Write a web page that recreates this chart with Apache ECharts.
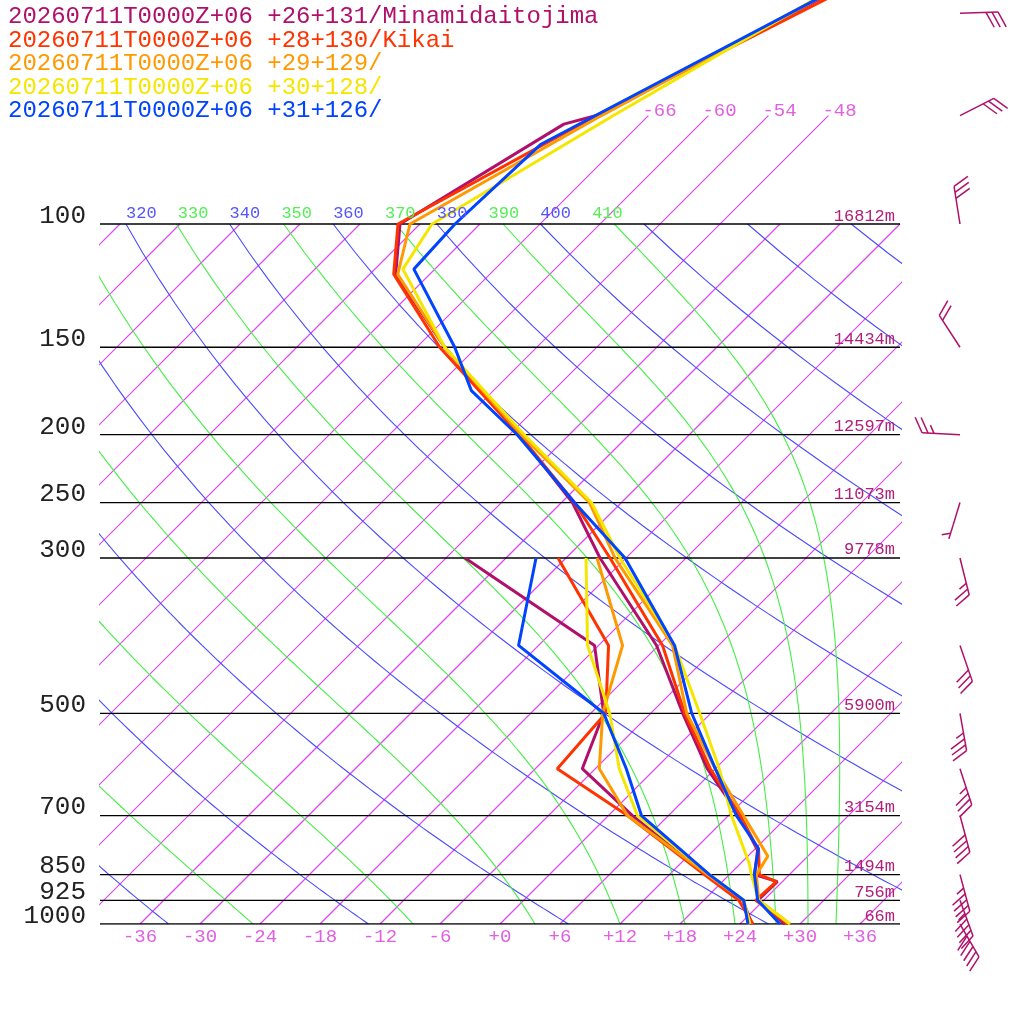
<!DOCTYPE html>
<html><head><meta charset="utf-8">
<script src="https://cdn.jsdelivr.net/npm/echarts@6/dist/echarts.min.js"></script>
<style>html,body{margin:0;padding:0;background:#fff}#c{width:1024px;height:1024px}</style>
</head><body><div id="c"></div>
<script>
// ---- data ----
const stationNames = ['20260711T0000Z+06 +26+131/Minamidaitojima','20260711T0000Z+06 +28+130/Kikai','20260711T0000Z+06 +29+129/','20260711T0000Z+06 +30+128/','20260711T0000Z+06 +31+126/'];
const stationColors = ['#b0106a','#ff3300','#ff9900','#f5e600','#0044ff'];

const minamiP = [1000,925,870,850,785,700,600,500,400,300,250,200,150,118,100,72,70,46];
const minamiT = [28.5,23.4,23.5,20.5,18.4,13.1,5.2,-2.8,-12.2,-26.6,-34.9,-47,-63.2,-75.4,-80,-73.6,-71.2,-59.5];
const kikaiP = [1000,925,870,850,785,700,600,500,400,300,250,200,150,118,100,70,46];
const kikaiT = [28.8,23.2,23.4,21,18.5,13.2,5.5,-2.6,-11.6,-25.6,-34.7,-47,-63.7,-75.6,-80.2,-71.2,-58.8];
const st3P = [1000,925,850,800,700,600,500,400,300,250,200,150,118,100,70,46];
const st3T = [29,23.5,20.7,20.0,13.5,6,-2.4,-10.6,-25.1,-33.2,-46.8,-63.2,-75.2,-79,-70.7,-59.8];
const st4P = [1000,925,850,820,700,600,500,400,300,250,200,150,116,100,70,46];
const st4T = [29,23.5,20.2,18.9,12.3,6.4,-1.1,-10.4,-24.6,-33,-46.5,-63.2,-75.2,-76.8,-69.5,-60.2];
const st5P = [1000,925,850,780,700,600,500,400,300,250,200,173,150,116,100,77,46];
const st5T = [28,23.4,20.5,18.3,12.8,6.0,-1.9,-10.4,-24.1,-34.7,-47.2,-56.2,-62.2,-74.1,-74.5,-73.9,-59.8];

const dewP = [1000,925,850,700,600,500,400,300];
const minamiTd = [25.2,21.9,15.6,2.4,-7.3,-10.7,-18.4,-40.1];
const kikaiTd = [25.3,21.5,15.5,1.9,-9.8,-10.5,-17,-30.8];
const st3Td = [24.9,22,15.8,1.9,-5.6,-10.8,-15.6,-26.9];
const st4Td = [25,22,16,2.9,-3.6,-10.1,-19.1,-28];
const st5Td = [24.8,22,16,3.3,-2.9,-10.7,-26,-33];

const pressureLevels = [100,150,200,250,300,500,700,850,925,1000];
const heightLabels = ['16812m','14434m','12597m','11073m','9778m','5900m','3154m','1494m','756m','66m'];
const tempTicks = [-36,-30,-24,-18,-12,-6,0,6,12,18,24,30,36];
const isoLabels = [-66,-60,-54,-48];
const thetaLabels = [320,330,340,350,360,370,380,390,400,410];
const moistStartT = [-24.7,-8.7,3.5,12,18.5,23.5,27.6,30.8,33.6];

const windP = [50,70,100,150,200,250,300,400,500,600,700,850,925,1000];
const windDir = [88,63,351,327,273,197,166,161,170,162,165,165,160,150];
const windSpd = [30,30,30,20,25,5,25,30,35,35,40,45,45,50];

// ---- helpers ----
const L = p => Math.log10(1000/p);
const sk = (T,p) => [T + 70*L(p), L(p)];
const series = [];
function line(data, color, width, z){
  series.push({type:'line', data, symbol:'none', silent:true, animation:false, z:z||1, color,
    itemStyle:{color}, lineStyle:{color, width, opacity:1}});
}
// isotherms
for (let T=-126; T<=36; T+=6){
  const top = (T>=-66 && T<=-48) ? 70 : 100;
  line([sk(T,1000), sk(T,top)], '#dd44ee', 1.15, 1);
}
// dry adiabats
for (let th=240; th<=520; th+=20){
  const d=[]; for(let p=1000;p>=100;p-=10){ d.push(sk(th*Math.pow(p/1000,0.2857)-273.15,p)); }
  line(d,'#4a4aff',1.1,2);
}
// moist adiabats
function es(Tc){return 6.112*Math.exp(17.67*Tc/(Tc+243.5));}
for (const T0 of moistStartT){
  let T=T0+273.15; const d=[sk(T0,1000)];
  for(let p=1000;p>100;p-=2){
    const f=(TT,pp)=>{const e=es(TT-273.15);const r=0.622*e/(pp-e);
      return (287*TT+2.5e6*r)/(pp*(1004+2.5e6*2.5e6*r*0.622/(287*TT*TT)));};
    const k1=f(T,p), k2=f(T-k1,p-1), k3=f(T-k2,p-1), k4=f(T-2*k3,p-2);
    T -= 2*(k1+2*k2+2*k3+k4)/6;
    if ((p-2)%10===0) d.push(sk(T-273.15,p-2));
  }
  line(d,'#44ee44',1.1,2);
}
// pressure lines
for (const p of pressureLevels) line([[-40,L(p)],[40,L(p)]],'#000',1.3,3);
// profiles
const tP=[minamiP,kikaiP,st3P,st4P,st5P], tT=[minamiT,kikaiT,st3T,st4T,st5T], tD=[minamiTd,kikaiTd,st3Td,st4Td,st5Td];
for(let i=0;i<5;i++){
  line(tT[i].map((t,j)=>sk(t,tP[i][j])), stationColors[i], 3, 10+i);
  line(tD[i].map((t,j)=>sk(t,dewP[j])), stationColors[i], 3, 10+i);
}
// text helper via custom series
function texts(items){
  series.push({type:'custom', silent:true, animation:false, clip:false, z:20,
    data: items.map((_,i)=>[i]),
    renderItem:(params,api)=>{const it=items[params.dataIndex]; const c=api.coord(it.at);
      return {type:'text', x:c[0]+(it.dx||0), y:c[1]+(it.dy||0), style:{text:it.text, fill:it.color,
        font:it.font, align:it.align||'left', verticalAlign:it.va||'middle'}};}});
}
const mono = '"Liberation Mono", "DejaVu Sans Mono", monospace';
texts(pressureLevels.map((p,i)=>({at:[-40,L(p)],dx:-14,dy:-8,text:String(p),color:'#222',font:'26px '+mono,align:'right'})));
texts(pressureLevels.map((p,i)=>({at:[40,L(p)],dx:-5,dy:-8,text:heightLabels[i],color:'#b0207a',font:'17px '+mono,align:'right'})));
texts(tempTicks.map(t=>({at:[t,0],dy:13,text:(t>=0?'+':'')+t,color:'#e060e0',font:'19px '+mono,align:'center'})));
texts(isoLabels.map(t=>({at:sk(t,70),dx:-6,dy:-5,text:String(t),color:'#e060e0',font:'19px '+mono})));
texts(thetaLabels.map(th=>({at:sk(th*Math.pow(0.1,0.2857)-273.15,100),dy:-11,text:String(th),
  color:(th%20===0)?'#5555ff':'#55ee55',font:'17px '+mono})));
// legend
texts(stationNames.map((s,i)=>({at:[-40,1.32],dx:-92,dy:17+23.5*i,text:s,color:stationColors[i],font:'24px '+mono})));
// wind barbs
series.push({type:'custom', silent:true, animation:false, clip:false, z:20,
  data: windP.map((p,i)=>[46, L(p), windDir[i], windSpd[i]]),
  renderItem:(params,api)=>{
    const o=api.coord([api.value(0),api.value(1)]); const d=api.value(2)*Math.PI/180; let s=api.value(3);
    const ux=Math.sin(d), uy=-Math.cos(d), len=38;
    const a=63*Math.PI/180; const fx=ux*Math.cos(a)-uy*Math.sin(a), fy=ux*Math.sin(a)+uy*Math.cos(a);
    const st={stroke:'#b0106a',lineWidth:1.5};
    const ch=[{type:'line',shape:{x1:o[0],y1:o[1],x2:o[0]+ux*len,y2:o[1]+uy*len},style:st}];
    let pos=len; 
    while(s>=10){ch.push({type:'line',shape:{x1:o[0]+ux*pos,y1:o[1]+uy*pos,x2:o[0]+ux*pos+fx*17,y2:o[1]+uy*pos+fy*17},style:st}); pos-=6; s-=10;}
    if(s>=5){ if(pos===len) pos-=6; ch.push({type:'line',shape:{x1:o[0]+ux*pos,y1:o[1]+uy*pos,x2:o[0]+ux*pos+fx*9,y2:o[1]+uy*pos+fy*9},style:st});}
    return {type:'group',children:ch};
  }});

const chart = echarts.init(document.getElementById('c'));
chart.setOption({animation:false, backgroundColor:'#fff',
  grid:{left:100,right:124,top:0,bottom:100},
  xAxis:{type:'value',min:-40,max:40,show:false},
  yAxis:{type:'value',min:0,max:1.32,show:false},
  series});
</script></body></html>
